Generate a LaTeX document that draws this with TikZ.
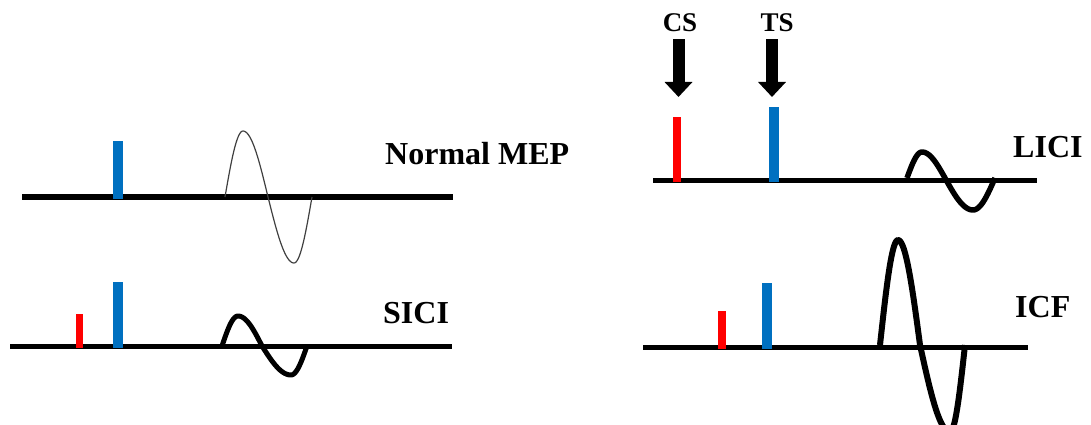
\documentclass[tikz,border=0pt]{standalone}
\usepackage{fontspec}
\setmainfont{Liberation Serif}
\usetikzlibrary{arrows.meta}
\definecolor{tsblue}{HTML}{0070C0}
\definecolor{csred}{HTML}{FF0000}
\definecolor{thinwave}{HTML}{404040}

% One biphasic MEP: #1 start x, #2 peak x, #3 zero crossing x, #4 trough x,
% #5 end x, #6 baseline y, #7 peak y, #8 trough y
\newcommand\mepwave[8]{%
  plot[domain=0:90,samples=20] ({#1+(#2-#1)*\x/90},{#6+(#7-#6)*sin(\x)})
  -- plot[domain=90:180,samples=20] ({#2+(#3-#2)*(\x-90)/90},{#6+(#7-#6)*sin(\x)})
  -- plot[domain=0:90,samples=20] ({#3+(#4-#3)*\x/90},{#6+(#8-#6)*sin(\x)})
  -- plot[domain=90:180,samples=20] ({#4+(#5-#4)*(\x-90)/90},{#6+(#8-#6)*sin(\x)})}

\begin{document}
\begin{tikzpicture}[x=1pt,y=-1pt,
  label/.style={font=\bfseries\fontsize{32}{32}\selectfont,inner sep=0pt,anchor=base west},
  stimlabel/.style={font=\bfseries\fontsize{27}{27}\selectfont,inner sep=0pt,anchor=base},
  trace/.style={line width=5pt,black},
  thicktrace/.style={line width=6pt,black},
  wave/.style={line width=5pt,black,line join=round},
  thinw/.style={line width=1.2pt,thinwave,line join=round},
  ts/.style={fill=tsblue},
  cs/.style={fill=csred},
  stimarrow/.style={line width=12pt,-{Triangle[width=27pt,length=15pt]},black}]
\useasboundingbox (0,0) rectangle (1091,425);

% Normal MEP
\draw[thicktrace] (22,197) -- (453,197);
\fill[ts] (113,141) rectangle (123,199);
\draw[thinw] \mepwave{225}{243}{268}{294}{312}{197}{131}{263};
\node[label] (normal) at (385,164) {Normal MEP};

% SICI
\draw[trace] (10,346) -- (452,346);
\fill[cs] (76,314) rectangle (83,348);
\fill[ts] (113,282) rectangle (123,348);
\draw[wave] \mepwave{222}{238}{262}{291}{307}{346}{316}{375};
\node[label] (sici) at (383,323) {SICI};

% LICI
\draw[trace] (653,180) -- (1037,180);
\fill[cs] (673,117) rectangle (681,182);
\fill[ts] (769,107) rectangle (779,182);
\draw[wave,line width=5.5pt] \mepwave{907}{922}{945}{973}{995}{178}{152}{210};
\node[label] (lici) at (1013,157) {LICI};

% Stimulus markers
\node[stimlabel] (cslabel) at (680,32) {CS};
\node[stimlabel] (tslabel) at (777,32) {TS};
\coordinate (cstip) at (678.5,97);
\coordinate (tstip) at (772,97);
\draw[stimarrow] (cslabel.south -| cstip) ++(0,7) -- (cstip);
\draw[stimarrow] (tslabel.south -| tstip) ++(0,7) -- (tstip);

% ICF
\draw[trace] (643,347) -- (1028,347);
\fill[cs] (718,311) rectangle (726,349);
\fill[ts] (762,283) rectangle (772,349);
\draw[wave,line width=6pt] \mepwave{880}{898}{920}{950}{965}{345}{240}{432};
\node[label] (icf) at (1015,317) {ICF};
\end{tikzpicture}
\end{document}
